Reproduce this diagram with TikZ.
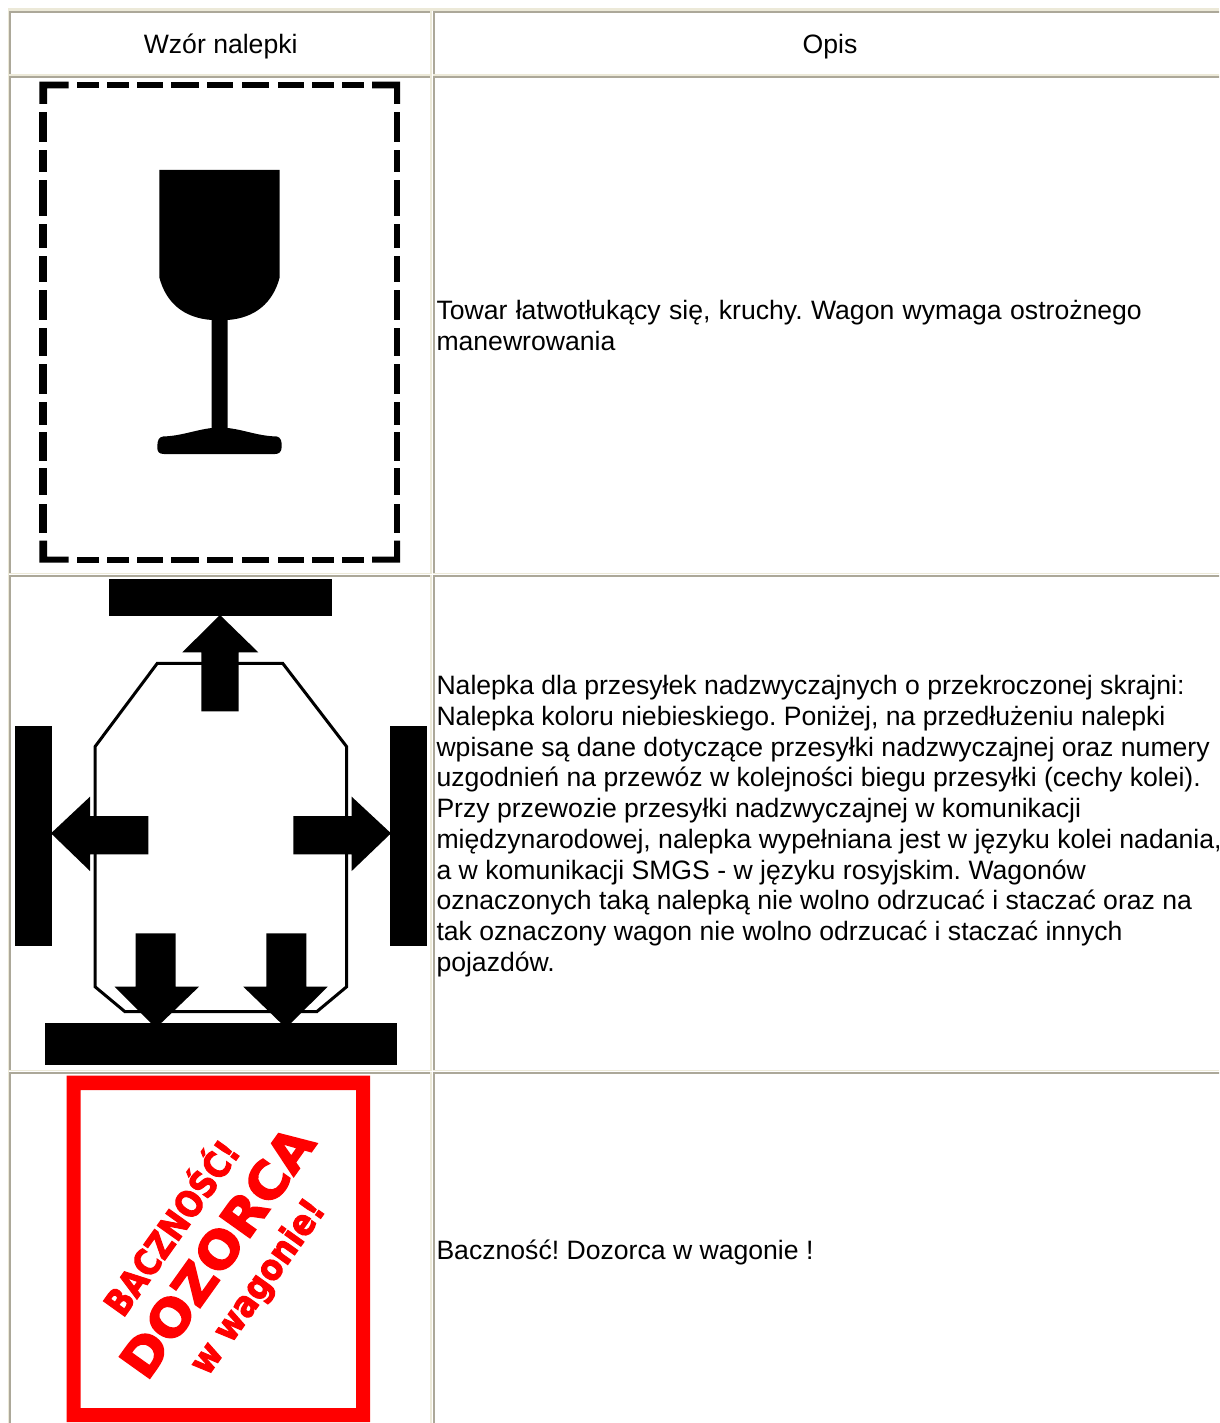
\documentclass[tikz,border=0pt]{standalone}
\usepackage{fontspec}
\setmainfont{Liberation Sans}
\newfontfamily\signfont[FakeBold=3]{DejaVu Sans Bold}
\definecolor{lightb}{HTML}{ECE9D8}
\definecolor{darkb}{HTML}{ACA899}
\definecolor{signred}{HTML}{FF0000}
\newcommand{\tablecell}[4]{% x1,x2,y1,y2 : y1,y2 outer bounds of the cell
  \fill[darkb] (#1,#3) rectangle (#2,#3+1.8);
  \fill[darkb] (#1,#3) rectangle (#1+1.8,#4);
  \fill[lightb] (#1,#4-1.6) rectangle (#2,#4);
  \fill[lightb] (#2-2,#3) rectangle (#2,#4);
}
\tikzset{
  body/.style={anchor=west,align=left,inner sep=0pt,font=\fontsize{26.6}{30.75}\selectfont\frenchspacing,text=black},
  head/.style={anchor=base,inner sep=0pt,font=\fontsize{26.6}{30.75}\selectfont,text=black},
  sign/.style={inner sep=0pt,text=signred,font=\signfont},
  blk/.style={fill=black,draw=none}
}
\begin{document}
\begin{tikzpicture}[x=1pt,y=-1pt]
\useasboundingbox (0,0) rectangle (1219,1423);
\clip (0,0) rectangle (1219,1423);
\fill[white] (0,0) rectangle (1219,1423);
% table frame
\fill[lightb] (8,8) rectangle (1219,11);
\fill[lightb] (8,8) rectangle (9,1423);
\tablecell{9}{432}{11}{75.6}
\tablecell{433}{1225}{11}{75.6}
\tablecell{9}{432}{76}{574.3}
\tablecell{433}{1225}{76}{574.3}
\tablecell{9}{432}{575}{1071.4}
\tablecell{433}{1225}{575}{1071.4}
\tablecell{9}{432}{1071.7}{1430}
\tablecell{433}{1225}{1071.7}{1430}
% texts
\node[head] (h1) at (220.7,54) {Wzór nalepki};
\node[head] (h2) at (830,54) {Opis};
\node[body] (t1) at (436.3,325.5) {\spaceskip=8.4pt Towar łatwotłukący się, kruchy. Wagon wymaga ostrożnego\\manewrowania};
\node[body] (t2) at (436.3,826) {Nalepka dla przesyłek nadzwyczajnych o przekroczonej skrajni:\\
Nalepka koloru niebieskiego. Poniżej, na przedłużeniu nalepki\\
wpisane są dane dotyczące przesyłki nadzwyczajnej oraz numery\\
uzgodnień na przewóz w kolejności biegu przesyłki (cechy kolei).\\
Przy przewozie przesyłki nadzwyczajnej w komunikacji\\
międzynarodowej, nalepka wypełniana jest w języku kolei nadania,\\
a w komunikacji SMGS - w języku rosyjskim. Wagonów\\
oznaczonych taką nalepką nie wolno odrzucać i staczać oraz na\\
tak oznaczony wagon nie wolno odrzucać i staczać innych\\
pojazdów.};
\node[body] (t3) at (436.3,1252) {Baczność! Dozorca w wagonie !};
% sign 1: dashed frame
\foreach \a/\b in {77/99.3,107.3/129.3,137.3/163.3,171.3/199.3,207.3/233.3,241.7/269.3,277.7/303.7,311.7/334,342/364}{
  \fill[black] (\a,81.7) rectangle (\b,88.3);
  \fill[black] (\a,556.7) rectangle (\b,562.7);
}
\foreach \a/\b in {111.7/141.7,150/172.3,180/216,224.3/248.3,256.3/282.3,290.3/320.3,328.3/356.3,364.3/394.3,402.3/425,432.3/461,468.3/495,504.3/533}{
  \fill[black] (39.3,\a) rectangle (47,\b);
  \fill[black] (394,\a) rectangle (400,\b);
}
\fill[black] (39.3,81.7) -| (68.7,88.3) -| (47,104) -| cycle;
\fill[black] (372,81.7) -| (400,104) -| (394,88.3) -| cycle;
\fill[black] (39.3,562.7) |- (47,540.7) |- (68.7,556.7) |- cycle;
\fill[black] (400,562.7) |- (394,540.7) |- (372,556.7) |- cycle;
% glass
\fill[black] (159.3,170) -- (279.7,170) -- (279.7,277.3)
  .. controls (273,303) and (255,318) .. (227.7,320)
  -- (227.7,428) .. controls (245,430) and (258,436) .. (276.7,436.5)
  .. controls (281,437) and (282,442) .. (281.7,447)
  .. controls (281.5,452) and (279,454) .. (275,454)
  -- (164,454) .. controls (159,454) and (157,452) .. (157.3,446)
  .. controls (157.5,440) and (159,437) .. (163,436.5)
  .. controls (181,436) and (195,430) .. (211.7,428)
  -- (211.7,320) .. controls (184,318) and (166,303) .. (159.3,277.3) -- cycle;
% sign 2
\draw[black,line width=3pt,line join=miter] (157.3,663.3) -- (282.7,663.3) -- (346.7,746.7) -- (346.7,986.7) -- (316.7,1011.7) -- (125,1011.7) -- (95,986.7) -- (95,746.7) -- cycle;
\fill[black] (109.3,579.3) rectangle (332.3,616.3);
\fill[black] (14.7,725.7) rectangle (51.7,946.3);
\fill[black] (390.3,725.7) rectangle (427.3,946.3);
\fill[black] (45,1023.3) rectangle (396.7,1065);
\fill[black] (220,615) -- (258.3,652.3) -- (238.7,652.3) -- (238.7,711.3) -- (201.3,711.3) -- (201.3,652.3) -- (182.3,652.3) -- cycle;
\fill[black] (51,833.3) -- (90,796.7) -- (90,816) -- (148.3,816) -- (148.3,854.3) -- (90,854.3) -- (90,871) -- cycle;
\fill[black] (391,833.3) -- (351.7,796.7) -- (351.7,816) -- (293.3,816) -- (293.3,854.3) -- (351.7,854.3) -- (351.7,871) -- cycle;
\fill[black] (135.7,933.3) -- (175.7,933.3) -- (175.7,986.7) -- (199,986.7) -- (156,1028) -- (114.7,986.7) -- (135.7,986.7) -- cycle;
\fill[black] (266.3,933.3) -- (306.3,933.3) -- (306.3,986.7) -- (327.7,986.7) -- (286,1028) -- (243.3,986.7) -- (266.3,986.7) -- cycle;
% sign 3
\fill[signred,even odd rule] (66.7,1075.7) rectangle (370,1422) (80.7,1090) rectangle (356,1408);
\node[sign,rotate=54.5] (s1) at (169,1226) {\fontsize{36}{36}\selectfont\scalebox{.86}[1]{BACZNOŚĆ!}};
\node[sign,rotate=54.5] (s2) at (217,1252) {\fontsize{51}{51}\selectfont\scalebox{1.04}[1]{DOZORCA}};
\node[sign,rotate=54.5] (s3) at (259,1288) {\fontsize{36}{36}\selectfont\scalebox{.88}[1]{w wagonie!}};
\end{tikzpicture}
\end{document}
